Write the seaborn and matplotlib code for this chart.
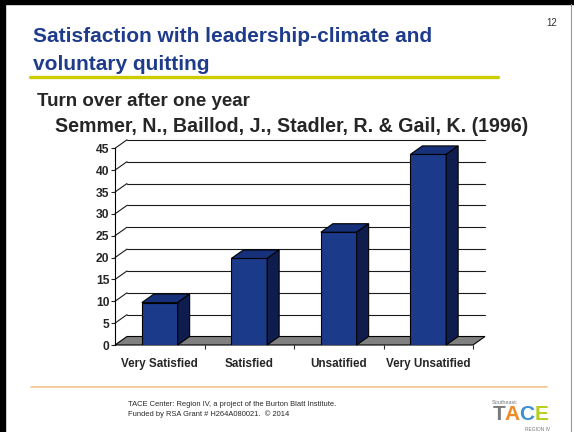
import matplotlib
matplotlib.use("Agg")
import matplotlib.pyplot as plt
from matplotlib.patches import Polygon, Rectangle
from matplotlib.lines import Line2D
import seaborn as sns

# chart data
categories = ["Very Satisfied", "Satisfied", "Unsatified", "Very Unsatified"]
turnover = [9.7, 19.8, 25.8, 43.6]
y_ticks = [0, 5, 10, 15, 20, 25, 30, 35, 40, 45]

sns.set_style("white")
plt.rcParams["font.family"] = ["Liberation Sans", "DejaVu Sans"]

W, H = 574, 432
fig = plt.figure(figsize=(W / 100, H / 100), dpi=100)


def fx(x):
    return x / W


def fy(y):
    return 1 - y / H


# slide frame
fig.patches.append(Rectangle((0, 0), fx(5), 1, transform=fig.transFigure, color="black"))
fig.patches.append(Rectangle((0, fy(4)), 1, fy(0) - fy(4), transform=fig.transFigure, color="black"))
fig.add_artist(Line2D([fx(571), fx(571)], [0, fy(4)], color="#999999", lw=0.8))

# header
blue = "#1F3C8C"
fig.text(fx(33), fy(37), "Satisfaction with leadership-climate and", color=blue,
         fontsize=15, fontweight="bold", va="center", ha="left")
fig.text(fx(33), fy(64), "voluntary quitting", color=blue,
         fontsize=15, fontweight="bold", va="center", ha="left")
fig.add_artist(Line2D([fx(30), fx(498)], [fy(76.5), fy(76.5)], color="#CCCC00", lw=2.4))
fig.text(fx(552), fy(23), "12", fontsize=7, color="#333333", ha="center", va="center")
fig.text(fx(37), fy(102), "Turn over after one year", fontsize=13.5, fontweight="bold",
         va="center", ha="left")
fig.text(fx(55), fy(127), "Semmer, N., Baillod, J., Stadler, R. & Gail, K. (1996)",
         fontsize=14.1, fontweight="bold", va="center", ha="left")

# chart (front plane of the 3D box)
ax = fig.add_axes([fx(115), fy(345), (473 - 115) / W, (345 - 148.3) / H])
front, top, side = "#1C3A8A", "#16307A", "#0E1D4E"
sns.barplot(x=categories, y=turnover, color=front, width=0.4, saturation=1,
            edgecolor="black", linewidth=0.8, ax=ax, zorder=3)
ax.set_xlim(-0.5, len(categories) - 0.5)
ax.set_ylim(0, 45)

# depth offset in data units (about 12 px right, 8.5 px up)
dx = 12 / ((473 - 115) / len(categories))
dy = 8.5 / ((345 - 148.3) / 45)
x0, x1 = -0.5, len(categories) - 0.5

# floor
ax.add_patch(Polygon([(x0, 0), (x1, 0), (x1 + dx, dy), (x0 + dx, dy)], closed=True,
                     facecolor="#808080", edgecolor="black", lw=0.8, zorder=1,
                     clip_on=False))
# back wall gridlines with small diagonals to the left axis
for t in y_ticks[1:]:
    ax.plot([x0 + dx, x1 + dx], [t + dy, t + dy], color="#1a1a1a", lw=0.8,
            zorder=0.5, clip_on=False)
    ax.plot([x0, x0 + dx], [t, t + dy], color="#1a1a1a", lw=0.8, zorder=0.5,
            clip_on=False)

# top and side faces of the bars
for p in ax.patches:
    if not isinstance(p, Rectangle):
        continue
    bx, bw, bh = p.get_x(), p.get_width(), p.get_height()
    ax.add_patch(Polygon([(bx, bh), (bx + bw, bh), (bx + bw + dx, bh + dy), (bx + dx, bh + dy)],
                         closed=True, facecolor=top, edgecolor="black", lw=0.8,
                         zorder=3, clip_on=False))
    ax.add_patch(Polygon([(bx + bw, 0), (bx + bw + dx, dy), (bx + bw + dx, bh + dy), (bx + bw, bh)],
                         closed=True, facecolor=side, edgecolor="black", lw=0.8,
                         zorder=3, clip_on=False))

ax.set_facecolor("none")
ax.grid(False)
for s in ["top", "right", "bottom"]:
    ax.spines[s].set_visible(False)
ax.spines["left"].set_linewidth(0.8)
ax.spines["left"].set_color("black")
ax.set_yticks(y_ticks)
ax.tick_params(axis="y", left=True, length=3, width=0.8, pad=1, labelsize=8.7)
ax.tick_params(axis="x", bottom=False, pad=6, labelsize=8.4)
ax.set_xticks([0.5, 1.5, 2.5, 3.5], minor=True)
ax.tick_params(axis="x", which="minor", bottom=True, length=3, width=0.8)
for lab in ax.get_xticklabels() + ax.get_yticklabels():
    lab.set_fontweight("bold")
ax.set_xlabel("")
ax.set_ylabel("")

# footer
fig.add_artist(Line2D([fx(31), fx(547)], [fy(387), fy(387)], color="#F9C48E", lw=1.2))
fig.text(fx(128), fy(404), "TACE Center: Region IV, a project of the Burton Blatt Institute.",
         fontsize=5.4, va="center", ha="left")
fig.text(fx(128), fy(414), "Funded by RSA Grant # H264A080021.  \u00a9 2014",
         fontsize=5.4, va="center", ha="left")
fig.text(fx(492), fy(402), "Southeast:", fontsize=4, color="#777777", va="center", ha="left")
for letter, xpos, col in [("T", 499, "#7A7A7A"), ("A", 512, "#F08A24"),
                          ("C", 527, "#3D8FD1"), ("E", 542, "#B8CC1A")]:
    fig.text(fx(xpos), fy(415), letter, fontsize=15, fontweight="bold", color=col,
             va="center", ha="center", family=["Liberation Sans Narrow", "Liberation Sans"])
fig.text(fx(550), fy(429.5), "REGION IV", fontsize=3.5, color="#777777", va="center", ha="right")

fig.savefig("out.png", dpi=100)
